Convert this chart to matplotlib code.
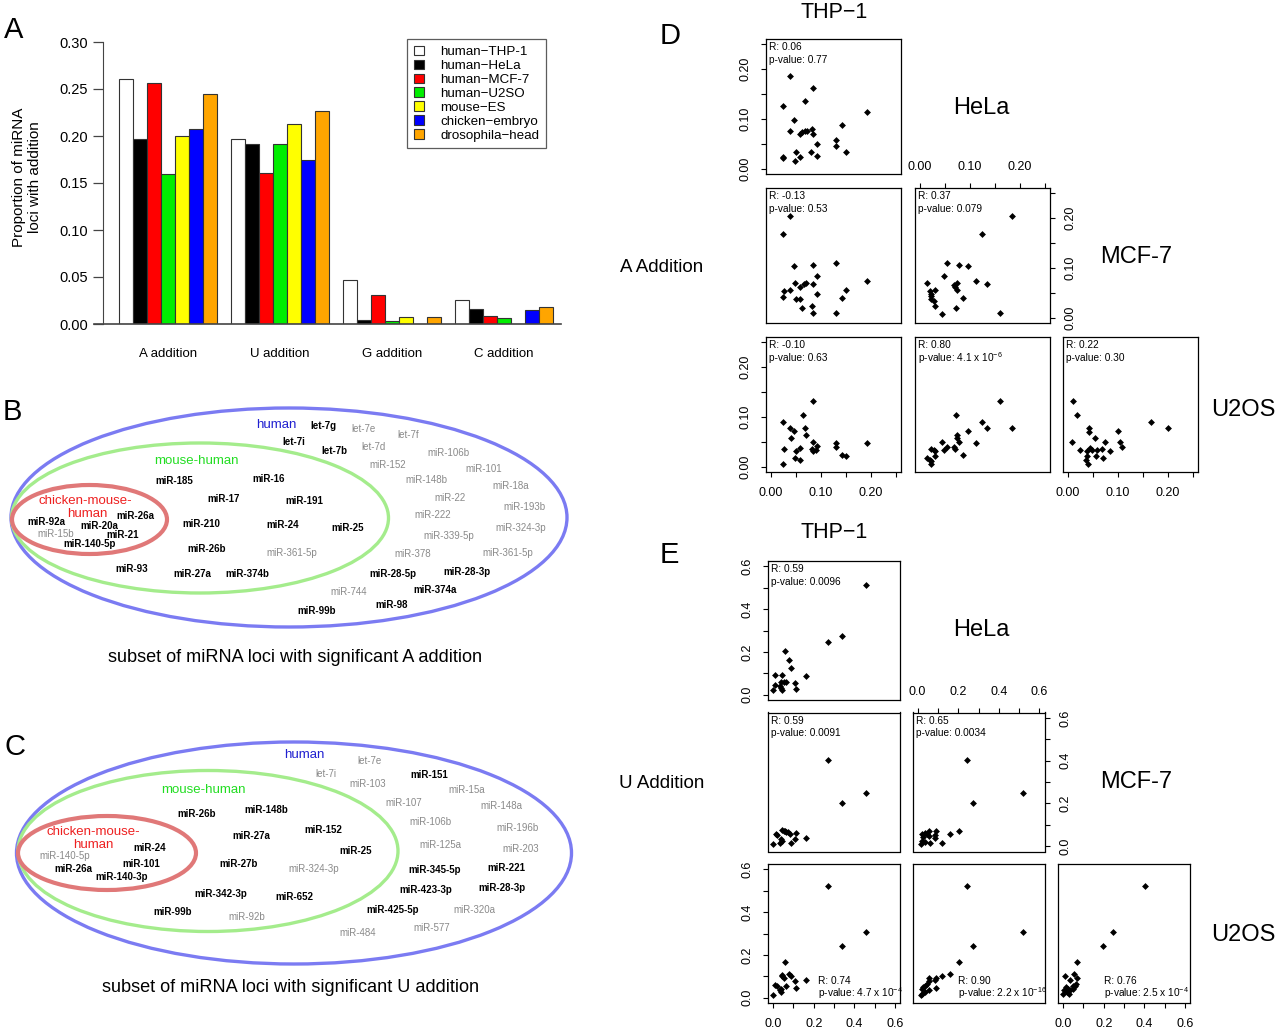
import numpy as np
import matplotlib
matplotlib.use('Agg')
import matplotlib.pyplot as plt
from matplotlib.patches import Ellipse, Patch
from matplotlib import font_manager

# ---------------- data ----------------
# panel A: proportion of miRNA loci with addition
categories = ['A addition', 'U addition', 'G addition', 'C addition']
series_names = ['human\u2212THP-1', 'human\u2212HeLa', 'human\u2212MCF-7', 'human\u2212U2SO',
                'mouse\u2212ES', 'chicken\u2212embryo', 'drosophila\u2212head']
thp1 = [0.261, 0.197, 0.047, 0.026]
hela = [0.197, 0.192, 0.004, 0.016]
mcf7 = [0.256, 0.161, 0.031, 0.008]
u2so = [0.160, 0.191, 0.003, 0.006]
mouse_es = [0.200, 0.213, 0.007, 0.0]
chicken = [0.207, 0.174, 0.0, 0.015]
drosophila = [0.245, 0.227, 0.007, 0.018]
bar_colors = ['white', 'black', '#ff0000', '#00ee00', '#ffff00', '#0000ff', '#ffa500']

# panel B / C: venn labels (1 = highlighted black, 0 = grey)
B_names = ['let-7g', 'let-7e', 'let-7f', 'let-7i', 'let-7b', 'let-7d', 'miR-106b', 'miR-152',
           'miR-101', 'miR-185', 'miR-16', 'miR-148b', 'miR-18a', 'miR-17', 'miR-191', 'miR-22',
           'miR-193b', 'miR-26a', 'miR-92a', 'miR-20a', 'miR-210', 'miR-24', 'miR-25', 'miR-222',
           'miR-324-3p', 'miR-15b', 'miR-21', 'miR-339-5p', 'miR-140-5p', 'miR-26b', 'miR-361-5p',
           'miR-378', 'miR-361-5p', 'miR-93', 'miR-27a', 'miR-374b', 'miR-28-5p', 'miR-28-3p',
           'miR-744', 'miR-374a', 'miR-98', 'miR-99b']
B_dark = [1, 0, 0, 1, 1, 0, 0, 0, 0, 1, 1, 0, 0, 1, 1, 0, 0, 1, 1, 1, 1, 1, 1, 0, 0, 0, 1, 0, 1,
          1, 0, 0, 0, 1, 1, 1, 1, 1, 0, 1, 1, 1]
C_names = ['let-7e', 'let-7i', 'miR-151', 'miR-103', 'miR-15a', 'miR-107', 'miR-148a', 'miR-26b',
           'miR-148b', 'miR-106b', 'miR-196b', 'miR-27a', 'miR-152', 'miR-125a', 'miR-203',
           'miR-24', 'miR-140-5p', 'miR-25', 'miR-101', 'miR-26a', 'miR-27b', 'miR-324-3p',
           'miR-345-5p', 'miR-221', 'miR-140-3p', 'miR-342-3p', 'miR-652', 'miR-423-3p',
           'miR-28-3p', 'miR-99b', 'miR-92b', 'miR-425-5p', 'miR-320a', 'miR-484', 'miR-577']
C_dark = [0, 0, 1, 0, 0, 0, 0, 1, 1, 0, 0, 1, 1, 0, 0, 1, 0, 1, 1, 1, 1, 0, 1, 1, 1, 1, 1, 1, 1,
          1, 0, 1, 0, 0, 0]

# panel D: A addition, pairwise proportions (x, y)
dA_thp_hela = ([0.037, 0.084, 0.067, 0.023, 0.191, 0.046, 0.038, 0.082, 0.142, 0.057, 0.061, 0.067,
                0.071, 0.083, 0.130, 0.091, 0.130, 0.050, 0.080, 0.150, 0.024, 0.024, 0.058, 0.091, 0.048],
               [0.185, 0.161, 0.135, 0.125, 0.113, 0.098, 0.076, 0.080, 0.087, 0.070, 0.073, 0.075,
                0.075, 0.070, 0.057, 0.049, 0.046, 0.034, 0.034, 0.034, 0.024, 0.022, 0.023, 0.026, 0.015])
dA_thp_mcf7 = ([0.037, 0.023, 0.046, 0.083, 0.130, 0.091, 0.191, 0.048, 0.070, 0.065, 0.057, 0.083,
                0.026, 0.037, 0.150, 0.091, 0.023, 0.142, 0.050, 0.058, 0.081, 0.061, 0.084, 0.130],
               [0.203, 0.167, 0.103, 0.105, 0.109, 0.083, 0.073, 0.070, 0.069, 0.067, 0.062, 0.067,
                0.054, 0.055, 0.056, 0.047, 0.042, 0.040, 0.037, 0.037, 0.023, 0.020, 0.010, 0.009])
dA_hela_mcf7 = ([0.185, 0.124, 0.055, 0.079, 0.097, 0.048, 0.113, 0.015, 0.134, 0.074, 0.068, 0.071,
                 0.020, 0.031, 0.074, 0.023, 0.022, 0.086, 0.022, 0.029, 0.031, 0.073, 0.160, 0.045],
                [0.203, 0.167, 0.109, 0.105, 0.103, 0.083, 0.073, 0.070, 0.067, 0.069, 0.065, 0.062,
                 0.054, 0.056, 0.055, 0.047, 0.043, 0.040, 0.037, 0.033, 0.023, 0.020, 0.010, 0.008])
dA_thp_u2os = ([0.084, 0.063, 0.023, 0.037, 0.067, 0.046, 0.039, 0.070, 0.083, 0.130, 0.191, 0.091,
                0.130, 0.026, 0.057, 0.081, 0.089, 0.050, 0.142, 0.150, 0.048, 0.057, 0.024, 0.083],
               [0.131, 0.103, 0.089, 0.078, 0.078, 0.072, 0.058, 0.064, 0.049, 0.048, 0.048, 0.042,
                0.039, 0.035, 0.037, 0.036, 0.033, 0.032, 0.024, 0.021, 0.017, 0.014, 0.005, 0.032])
dA_hela_u2os = ([0.160, 0.073, 0.124, 0.134, 0.185, 0.097, 0.074, 0.074, 0.045, 0.078, 0.113, 0.055,
                 0.048, 0.068, 0.071, 0.022, 0.029, 0.031, 0.086, 0.031, 0.015, 0.020, 0.023, 0.023],
                [0.131, 0.103, 0.089, 0.078, 0.078, 0.072, 0.064, 0.058, 0.049, 0.049, 0.048, 0.039,
                 0.033, 0.039, 0.035, 0.036, 0.033, 0.032, 0.024, 0.021, 0.017, 0.014, 0.005, 0.011])
dA_mcf7_u2os = ([0.009, 0.018, 0.165, 0.200, 0.042, 0.100, 0.042, 0.053, 0.007, 0.073, 0.104, 0.107,
                 0.023, 0.048, 0.057, 0.068, 0.044, 0.037, 0.083, 0.055, 0.037, 0.070, 0.035, 0.040],
                [0.131, 0.103, 0.089, 0.078, 0.078, 0.072, 0.069, 0.058, 0.049, 0.049, 0.049, 0.039,
                 0.033, 0.033, 0.033, 0.036, 0.037, 0.032, 0.032, 0.021, 0.021, 0.017, 0.014, 0.005])
dA_stats = [('R: 0.06', 'p-value: 0.77'), ('R: -0.13', 'p-value: 0.53'), ('R: 0.37', 'p-value: 0.079'),
            ('R: -0.10', 'p-value: 0.63'), ('R: 0.80', 'p-value: 4.1 x 10$^{-6}$'),
            ('R: 0.22', 'p-value: 0.30')]

# panel E: U addition
eU_thp_hela = ([0.460, 0.338, 0.272, 0.060, 0.079, 0.088, 0.011, 0.045, 0.163, 0.039, 0.056, 0.066,
                0.107, 0.011, 0.032, 0.039, 0.045, 0.113, 0.000],
               [0.514, 0.273, 0.246, 0.202, 0.162, 0.123, 0.090, 0.090, 0.087, 0.059, 0.059, 0.059,
                0.053, 0.044, 0.040, 0.031, 0.023, 0.028, 0.022])
eU_thp_mcf7 = ([0.272, 0.460, 0.338, 0.045, 0.060, 0.073, 0.084, 0.013, 0.113, 0.163, 0.039, 0.045,
                0.107, 0.034, 0.088, 0.000, 0.056, 0.066, 0.017],
               [0.402, 0.248, 0.201, 0.076, 0.073, 0.067, 0.058, 0.055, 0.061, 0.040, 0.034, 0.026,
                0.034, 0.014, 0.014, 0.011, 0.073, 0.064, 0.052])
eU_hela_mcf7 = ([0.245, 0.517, 0.275, 0.204, 0.161, 0.090, 0.058, 0.086, 0.122, 0.021, 0.036, 0.047,
                 0.026, 0.054, 0.021, 0.036, 0.060, 0.015, 0.086],
                [0.402, 0.248, 0.201, 0.069, 0.058, 0.073, 0.073, 0.050, 0.014, 0.058, 0.061, 0.058,
                 0.042, 0.047, 0.026, 0.019, 0.014, 0.011, 0.039])
eU_thp_u2os = ([0.272, 0.460, 0.338, 0.060, 0.079, 0.088, 0.045, 0.056, 0.163, 0.107, 0.011, 0.066,
                0.039, 0.113, 0.032, 0.039, 0.000, 0.017, 0.045],
               [0.520, 0.307, 0.240, 0.167, 0.112, 0.100, 0.101, 0.093, 0.081, 0.076, 0.059, 0.056,
                0.042, 0.045, 0.034, 0.026, 0.012, 0.053, 0.104])
eU_hela_u2os = ([0.245, 0.517, 0.275, 0.204, 0.161, 0.122, 0.090, 0.086, 0.092, 0.058, 0.054, 0.047,
                 0.036, 0.026, 0.021, 0.054, 0.036, 0.021, 0.015],
                [0.520, 0.307, 0.240, 0.167, 0.112, 0.103, 0.093, 0.081, 0.045, 0.093, 0.076, 0.065,
                 0.056, 0.050, 0.042, 0.037, 0.026, 0.019, 0.012])
eU_mcf7_u2os = ([0.403, 0.248, 0.199, 0.069, 0.056, 0.009, 0.032, 0.071, 0.066, 0.051, 0.013, 0.026,
                 0.058, 0.004, 0.019, 0.036, 0.000, 0.047, 0.030],
                [0.520, 0.307, 0.240, 0.167, 0.112, 0.103, 0.081, 0.093, 0.065, 0.056, 0.050, 0.042,
                 0.053, 0.034, 0.026, 0.034, 0.016, 0.042, 0.019])
eU_stats = [('R: 0.59', 'p-value: 0.0096'), ('R: 0.59', 'p-value: 0.0091'), ('R: 0.65', 'p-value: 0.0034'),
            ('R: 0.74', 'p-value: 4.7 x 10$^{-4}$'), ('R: 0.90', 'p-value: 2.2 x 10$^{-16}$'),
            ('R: 0.76', 'p-value: 2.5 x 10$^{-4}$')]

# ---------------- layout ----------------
W, H = 1280, 1029
plt.rcParams['font.family'] = ['Liberation Sans', 'DejaVu Sans']
plt.rcParams['mathtext.fontset'] = 'custom'
plt.rcParams['mathtext.rm'] = 'Liberation Sans'
plt.rcParams['mathtext.default'] = 'regular'
installed = {f.name for f in font_manager.fontManager.ttflist}
narrow = 'Liberation Sans Narrow' if 'Liberation Sans Narrow' in installed else 'Liberation Sans'

fig = plt.figure(figsize=(W / 100, H / 100), dpi=100)


def px_axes(x0, y0, w, h):
    return fig.add_axes([x0 / W, 1 - (y0 + h) / H, w / W, h / H])


ov = fig.add_axes([0, 0, 1, 1])
ov.set_xlim(0, W)
ov.set_ylim(H, 0)
ov.axis('off')

# ---------------- panel A ----------------
axA = px_axes(103, 42, 467, 282)
unit = 14.0
axA.set_xlim((103 - 105) / unit, (570 - 105) / unit)
axA.set_ylim(0, 0.30)
all_series = [thp1, hela, mcf7, u2so, mouse_es, chicken, drosophila]
ncat = len(categories)
nser = len(all_series)
for i, vals in enumerate(all_series):
    lefts = [g * (nser + 1) + 1 + i for g in range(ncat)]
    axA.bar(lefts, vals, width=1, align='edge', color=bar_colors[i], edgecolor='#333333',
            linewidth=0.8, label=series_names[i])
for s in ['top', 'right', 'bottom']:
    axA.spines[s].set_visible(False)
axA.spines['left'].set_color('#444444')
axA.plot([(94 - 105) / unit, (561 - 105) / unit], [0, 0], color='#444444', lw=1.2, clip_on=False)
yt = np.arange(0, 0.301, 0.05)
axA.set_yticks(yt)
axA.set_yticklabels(['%.2f' % v for v in yt])
axA.tick_params(axis='y', length=7, width=0.9, color='#444444', labelsize=10.5, pad=4)
axA.set_xticks([g * (nser + 1) + 1 + nser / 2 for g in range(ncat)])
axA.set_xticklabels(categories, fontfamily=narrow, fontsize=9.5)
axA.tick_params(axis='x', length=0, pad=17)
handles = [Patch(facecolor=bar_colors[i], edgecolor='#333333', linewidth=0.8) for i in range(nser)]
leg = axA.legend(handles, series_names, loc='upper left', bbox_to_anchor=(407 / W, 1 - 39 / H),
                 bbox_transform=fig.transFigure, borderaxespad=0, fontsize=9.6, frameon=True,
                 fancybox=False, edgecolor='#333333', handlelength=0.75, handleheight=0.7,
                 handletextpad=1.25, labelspacing=0.12, borderpad=0.5)
leg.get_frame().set_linewidth(0.9)
ov.text(4, 30, 'A', fontsize=21, ha='left', va='center')
ov.text(27, 177, 'Proportion of miRNA\nloci with addition', rotation=90, fontsize=11,
        ha='center', va='center', linespacing=1.2)

# ---------------- panels B, C (venn) ----------------
venn_blue = '#7b7bf2'
venn_green = '#a4ec8c'
venn_red = '#e07878'

B_xy = [(323, 426), (364, 429), (408, 435), (294, 442), (334, 451), (374, 447), (448, 453), (388, 465),
        (484, 469), (174, 481), (269, 479), (426, 480), (511, 486), (224, 499), (304, 501), (450, 498),
        (524, 507), (135, 516), (46, 522), (99, 526), (201, 524), (283, 525), (348, 528), (433, 515),
        (521, 528), (56, 534), (123, 535), (449, 536), (90, 544), (207, 549), (292, 553), (413, 554),
        (508, 553), (132, 569), (192, 574), (247, 574), (393, 574), (467, 572), (349, 592), (435, 590),
        (392, 605), (317, 611)]
C_xy = [(370, 761), (326, 774), (429, 775), (368, 784), (467, 790), (404, 803), (501, 806), (197, 814),
        (266, 810), (430, 822), (518, 828), (251, 836), (323, 830), (440, 845), (521, 849), (150, 848),
        (65, 856), (356, 851), (141, 864), (73, 869), (239, 864), (314, 869), (435, 870), (506, 868),
        (122, 877), (221, 894), (294, 897), (426, 890), (502, 888), (173, 912), (247, 917), (393, 910),
        (474, 910), (358, 933), (432, 928)]


def venn(blue, green, red, names, dark, xy, titles_xy, caption, cap_xy, letter, letter_xy):
    for (cx, cy, w, h), col, lw in [(blue, venn_blue, 2.4), (green, venn_green, 2.4), (red, venn_red, 3.0)]:
        ov.add_patch(Ellipse((cx, cy), w, h, fill=False, edgecolor=col, linewidth=lw))
    for name, d, (x, y) in zip(names, dark, xy):
        ov.text(x, y, name, fontsize=7, ha='center', va='center',
                color='black' if d else '#8a8a8a', fontweight='bold' if d else 'normal')
    (hx, hy), (mx, my), (cx1, cy1), (cx2, cy2) = titles_xy
    ov.text(hx, hy, 'human', color='#2020d0', fontsize=9.5, ha='center', va='center')
    ov.text(mx, my, 'mouse-human', color='#22dd22', fontsize=9.5, ha='center', va='center')
    ov.text(cx1, cy1, 'chicken-mouse-', color='#ee2020', fontsize=9.5, ha='center', va='center')
    ov.text(cx2, cy2, 'human', color='#ee2020', fontsize=9.5, ha='center', va='center')
    ov.text(cap_xy[0], cap_xy[1], caption, fontsize=13.1, ha='center', va='center')
    ov.text(letter_xy[0], letter_xy[1], letter, fontsize=21, ha='left', va='center')


venn((289, 517.5, 556, 219), (200, 518, 377, 150), (89.5, 519.5, 155, 69), B_names, B_dark, B_xy,
     [(276, 425), (196, 461), (85, 501), (87, 514)],
     'subset of miRNA loci with significant A addition', (295, 657), 'B', (3, 412))
venn((294, 853, 555, 222), (208, 851, 380, 161), (107, 853, 178, 74), C_names, C_dark, C_xy,
     [(304, 755), (203, 790), (93, 832), (93, 845)],
     'subset of miRNA loci with significant U addition', (291, 987), 'C', (4, 747))

# ---------------- panels D, E (pairs) ----------------


def pairs(col_x, row_y, w, h, lim, step, fmt, datasets, stats, bottom_text):
    cells = [(0, 0), (1, 0), (1, 1), (2, 0), (2, 1), (2, 2)]
    for k, ((r, c), (xs, ys), (rt, pt)) in enumerate(zip(cells, datasets, stats)):
        ax = px_axes(col_x[c], row_y[r], w, h)
        ax.plot(xs, ys, 'D', ms=3.5, color='black', mew=0)
        ax.set_xlim(lim)
        ax.set_ylim(lim)
        ticks = np.arange(0, lim[1], step)
        labels = [fmt % t if j % 2 == 0 else '' for j, t in enumerate(ticks)]
        ax.set_xticks(ticks)
        ax.set_xticklabels(labels)
        ax.set_yticks(ticks)
        ax.set_yticklabels(labels)
        left = c == 0 and r in (0, 2)
        bottom = r == 2 and c in (0, 2)
        side = r == 1 and c == 1
        ax.tick_params(left=left, labelleft=left, bottom=bottom, labelbottom=bottom,
                       top=side, labeltop=side, right=side, labelright=side,
                       direction='out', length=3.6, width=0.8, labelsize=9, pad=7)
        ax.tick_params(axis='y', labelrotation=90)
        for t in ax.yaxis.get_major_ticks():
            t.label1.set_va('center')
            t.label2.set_va('center')
        for sp in ax.spines.values():
            sp.set_linewidth(0.9)
        if bottom_text and r == 2:
            bx = bottom_text[c]
            ax.text(bx, 0.08, rt, fontsize=7.3, ha='left', va='center')
            ax.text(bx, 0.02, pt, fontsize=7.3, ha='left', va='center')
        else:
            ax.text(3 / w, 1 - 8 / h, rt, transform=ax.transAxes, fontsize=7.3, ha='left', va='center')
            ax.text(3 / w, 1 - 21 / h, pt, transform=ax.transAxes, fontsize=7.3, ha='left', va='center')


pairs([766, 914.5, 1063], [39, 188, 337], 135, 135, (-0.01, 0.26), 0.05, '%.2f',
      [dA_thp_hela, dA_thp_mcf7, dA_hela_mcf7, dA_thp_u2os, dA_hela_u2os, dA_mcf7_u2os], dA_stats, None)
pairs([768, 912.5, 1058], [561, 712.5, 864], 132, 139, (-0.025, 0.625), 0.1, '%.1f',
      [eU_thp_hela, eU_thp_mcf7, eU_hela_mcf7, eU_thp_u2os, eU_hela_u2os, eU_mcf7_u2os], eU_stats,
      [0.22, 0.2, 0.2])

for letter, lx, ly, top, hl, mc, u, add, addy in [
        ('D', 660, 36, 12, 108, 257, 410, 'A Addition', 268),
        ('E', 660, 555, 532, 630, 782, 935, 'U Addition', 783)]:
    ov.text(lx, ly, letter, fontsize=21, ha='left', va='center')
    ov.text(834, top, 'THP\u22121', fontsize=15.5, ha='center', va='center')
    ov.text(981, hl, 'HeLa', fontsize=17, ha='center', va='center')
    ov.text(1136, mc, 'MCF-7', fontsize=17, ha='center', va='center')
    ov.text(1243, u, 'U2OS', fontsize=17, ha='center', va='center')
    ov.text(662, addy, add, fontsize=13.5, ha='center', va='center')

fig.savefig('out.png', dpi=100)
